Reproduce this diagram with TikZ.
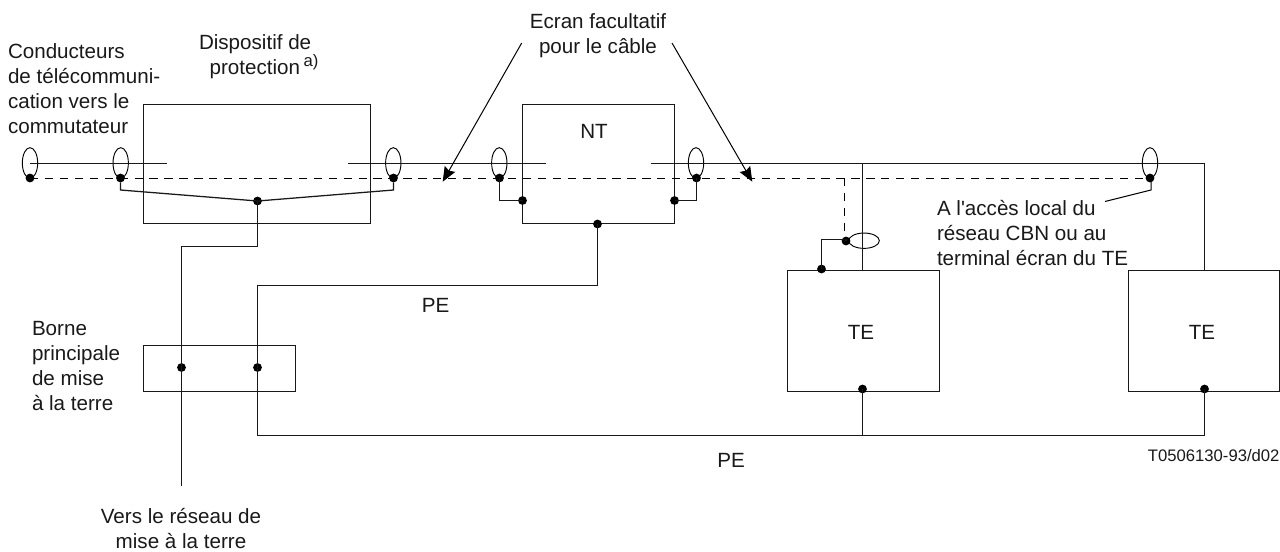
\documentclass[tikz,border=0pt]{standalone}
\usepackage{fontspec}
\newfontfamily\arialf{Liberation Sans}
\usetikzlibrary{shapes.geometric,arrows.meta,positioning}
\tikzset{
  wire/.style={line width=0.95pt,draw=black!90,line join=miter},
  thin wire/.style={line width=0.75pt,draw=black},
  dashwire/.style={line width=0.75pt,draw=black,dash pattern=on 6.2pt off 5pt},
  boxwh/.style 2 args={draw=black!90,line width=0.95pt,rectangle,inner sep=0pt,outer sep=0pt,minimum width=#1*0.75pt,minimum height=#2*0.75pt},
  dot/.style={circle,fill=black,draw=none,inner sep=0pt,outer sep=0pt,minimum size=6.6pt},
  vring/.style={ellipse,draw=black,line width=0.7pt,inner sep=0pt,outer sep=0pt,minimum width=11.5pt,minimum height=23pt},
  hring/.style={ellipse,draw=black,line width=0.7pt,inner sep=0pt,outer sep=0pt,minimum width=23pt,minimum height=11.5pt},
  lbl/.style={font=\arialf\fontsize{15.45}{18.75}\selectfont,inner sep=0pt,outer sep=0pt,align=left,text=black!90},
  clbl/.style={lbl,align=center},
  pointer/.style={thin wire,-{Stealth[length=11pt,width=9pt,inset=1.5pt]}},
}
\begin{document}
\begin{tikzpicture}[x=0.75pt,y=-0.75pt]
\useasboundingbox (0,0) rectangle (1280,551);
% boxes
\node[boxwh={227}{119}] (prot) at (257,164) {};
\node[boxwh={152}{119}] (nt) at (598.5,164) {};
\node[boxwh={152}{121}] (te1) at (863.5,331) {};
\node[boxwh={151}{121}] (te2) at (1204,331) {};
\node[boxwh={152}{46}] (mgt) at (219.5,368.5) {};
% rings
\node[vring] (r1) at (30,163) {};
\node[vring] (r2) at (120.7,163) {};
\node[vring] (r3) at (393.3,163) {};
\node[vring] (r4) at (499.3,163) {};
\node[vring] (r5) at (696,163) {};
\node[vring] (r6) at (1150,163) {};
\node[hring] (r7) at (864,240.7) {};
% dots
\node[dot] (d1) at (30,178) {};
\node[dot] (d2) at (120.5,178) {};
\node[dot] (d3) at (393.5,178) {};
\node[dot] (d4) at (499.5,178) {};
\node[dot] (d5) at (696.5,178) {};
\node[dot] (d6) at (1150,178) {};
\node[dot] (d7) at (846,241) {};
\node[dot] (jp) at (257.5,201) {};
\node[dot] (jl) at (522.5,200.5) {};
\node[dot] (jr) at (674.5,200.5) {};
\node[dot] (jb) at (597.5,224) {};
\node[dot] (jt) at (821.5,269) {};
\node[dot] (j1) at (862.5,389) {};
\node[dot] (j2) at (1204.5,389) {};
\node[dot] (m1) at (181.5,367.5) {};
\node[dot] (m2) at (257.5,367.5) {};
% free ends
\coordinate (a1) at (30,163.5);
\coordinate (a2) at (167,163.5);
\coordinate (a3) at (347.5,163.5);
\coordinate (a4) at (546,163.5);
\coordinate (a5) at (650.5,163.5);
\coordinate (a6) at (1204.5,163.5);
\coordinate (gnd) at (181.5,486);
\coordinate (k2) at (120.5,190);
\coordinate (k3) at (393.5,190);
\coordinate (t) at (862.5,163.5);
\coordinate (pe) at (862.5,435.5);
% wires
\draw[wire] (a1) -- (a2);
\draw[wire] (a3) -- (a4);
\draw[wire] (a5) -- (a6) -- (a6 |- te2.north);
\draw[wire] (t) -- (t |- te1.north);
\draw[wire] (d2) -- (k2) -- (jp.center) -- (k3) -- (d3);
\draw[wire] (jp.center) -- (257.5,246.5) -- (181.5,246.5) -- (gnd);
\draw[wire] (jb.center) -- (597.5,285.5) -- (257.5,285.5) -- (257.5,435.5) -- (1204.5,435.5) -- (j2.center);
\draw[wire] (pe) -- (j1.center);
\draw[wire] (d4.center) -- (499.5,200.5) -- (jl.center);
\draw[wire] (d5.center) -- (696.5,200.5) -- (jr.center);
\draw[wire] (d7.center) -- (846,239.5) -- (821.5,239.5) -- (jt.center);
% screen
\draw[dashwire] (d1.center) -- (d6.center);
\draw[dashwire] (844.5,178) -- (844.5,241);
% leader
\draw[thin wire] (1151,178) -- (1151,190) -- (1105,201.5);
% texts
\node[lbl,anchor=north west] (t1) at (8,43.5) {Conducteurs\\de télécommuni-\\cation vers le\\commutateur};
\node[lbl,anchor=north west] (t2) at (199,35) {Dispositif de\\\hspace*{8pt}protection\,\raisebox{6pt}{\fontsize{12.5}{12.5}\selectfont a)}};
\node[clbl,anchor=north] (t3) at (598,13.5) {Ecran facultatif\\pour le câble};
\node[lbl] (nttxt) at (594,131.7) {NT};
\node[lbl] (te1txt) at (861,332) {TE};
\node[lbl] (te2txt) at (1202,332) {TE};
\node[lbl] (pe2) at (435.5,305) {PE};
\node[lbl] (pe3) at (731,460) {PE};
\node[lbl,anchor=north west] (t4) at (32,321) {Borne\\principale\\de mise\\à la terre};
\node[clbl,anchor=north] (t5) at (181,508) {Vers le réseau de\\mise à la terre};
\node[lbl,anchor=north west] (t6) at (937,200) {A l'accès local du\\réseau CBN ou au\\terminal écran du TE};
\node[lbl,anchor=east,font=\arialf\fontsize{12.5}{14}\selectfont] (code) at (1279.5,456) {T0506130-93/d02};
% pointers
\coordinate (p1) at (521.7,43);
\coordinate (p2) at (442.7,181.7);
\coordinate (p3) at (672,43);
\coordinate (p4) at (752.3,181.7);
\draw[pointer] (p1) -- (p2);
\draw[pointer] (p3) -- (p4);
\end{tikzpicture}
\end{document}
